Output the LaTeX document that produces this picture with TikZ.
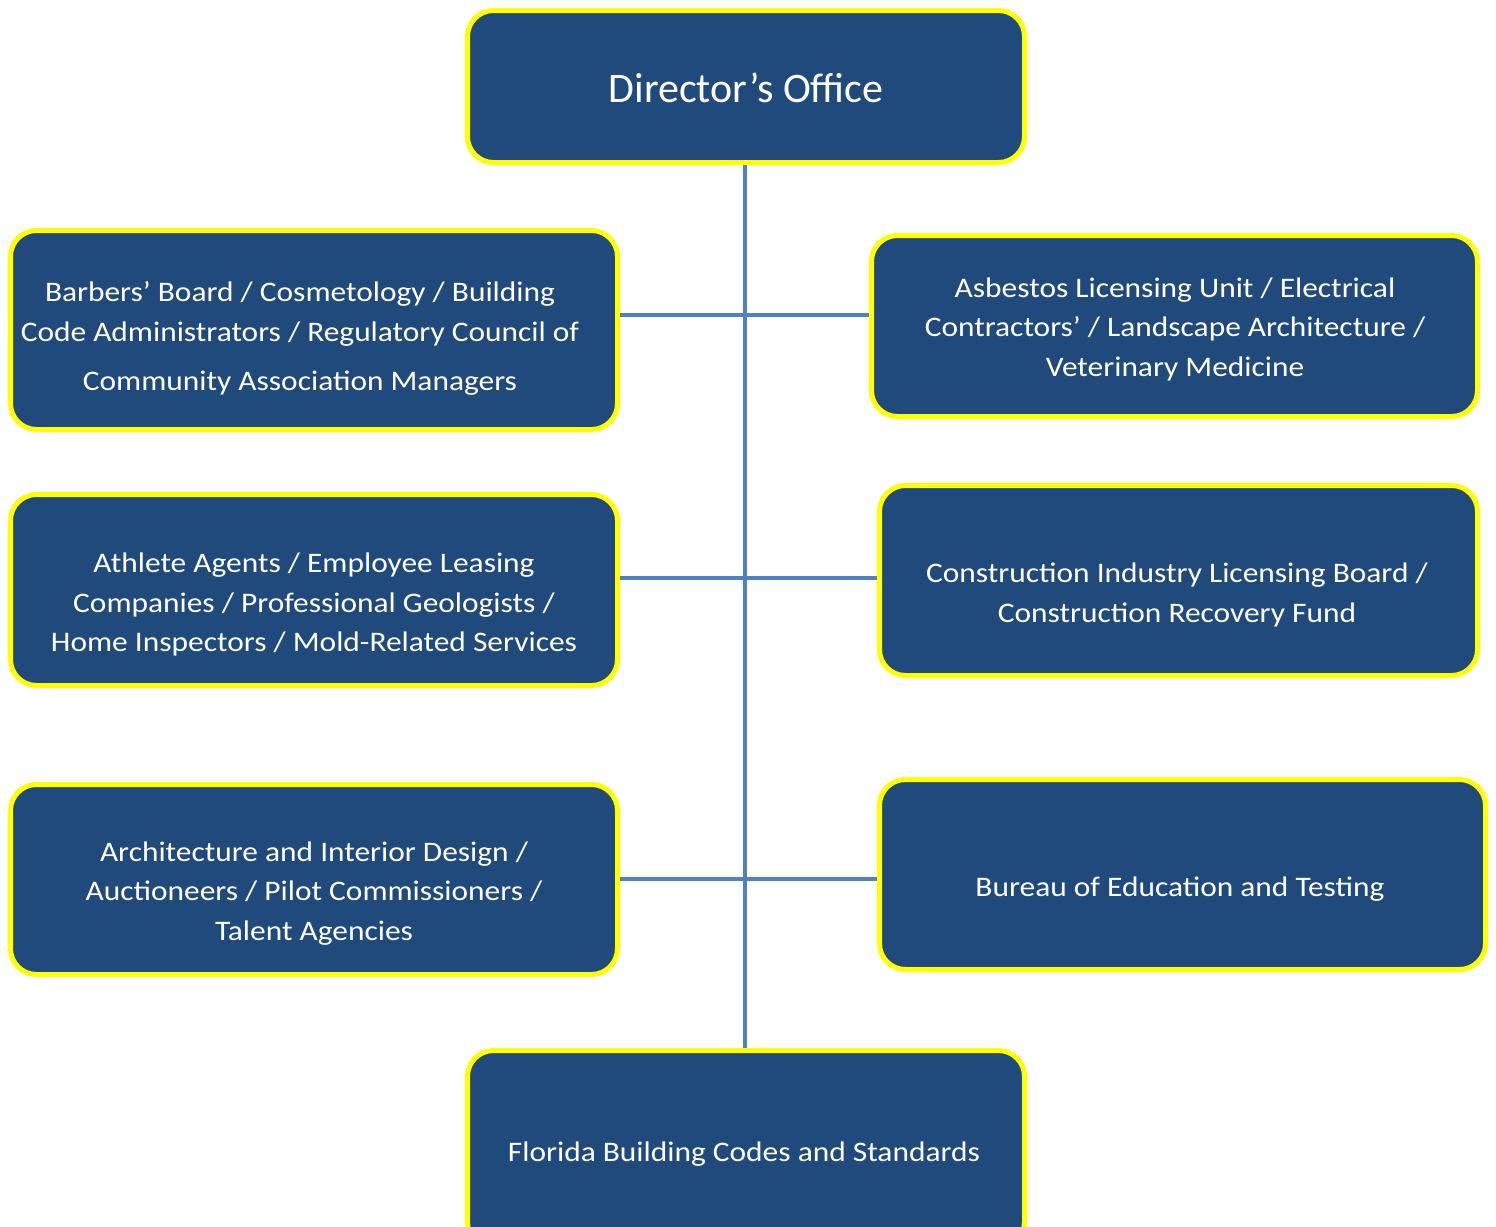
\documentclass[tikz,border=0pt]{standalone}
\usepackage{fontspec}
\setmainfont{Carlito}
\newfontfamily\widefont{Carlito}[FakeStretch=1.11]
\definecolor{boxblue}{HTML}{214A7C}
\definecolor{lineblue}{HTML}{4F81BD}
\definecolor{boxyellow}{HTML}{FFFF00}
\begin{document}
\begin{tikzpicture}[x=1pt,y=-1pt,
  orgbox/.style={draw=boxyellow, line width=5pt, fill=boxblue, rounded corners=26pt, inner sep=0pt},
  orgtext/.style={text=white, align=center, inner sep=0pt, font=\widefont\fontsize{28.3}{39.5}\selectfont},
  conn/.style={draw=lineblue, line width=4pt}]
\useasboundingbox (0,0) rectangle (1496,1226);
\node[orgbox, minimum width=557pt, minimum height=152pt] (dir) at (746,86.5) {};
\node[orgbox, minimum width=557pt, minimum height=197pt] (bot) at (746,1149) {};
\node[orgbox, minimum width=607pt, minimum height=199pt] (L1) at (314,330) {};
\node[orgbox, minimum width=606pt, minimum height=181pt] (R1) at (1174.5,326) {};
\node[orgbox, minimum width=607pt, minimum height=191pt] (L2) at (314,590) {};
\node[orgbox, minimum width=598pt, minimum height=190pt] (R2) at (1178.5,580.5) {};
\node[orgbox, minimum width=607pt, minimum height=190pt] (L3) at (314,879.5) {};
\node[orgbox, minimum width=606pt, minimum height=190pt] (R3) at (1182.5,874.5) {};

\coordinate (h1) at (745,315);
\coordinate (h2) at (745,578);
\coordinate (h3) at (745,879);
\draw[conn] (dir.south -| h1) -- (bot.north -| h1);
\draw[conn] (L1.east |- h1) -- (R1.west |- h1);
\draw[conn] (L2.east |- h2) -- (R2.west |- h2);
\draw[conn] (L3.east |- h3) -- (R3.west |- h3);

\node[orgtext, font=\fontsize{42}{50}\selectfont] (dirT) at (746,88) {Director’s Office};
\node[orgtext] (L1T) at (300,338.5) {Barbers’ Board / Cosmetology / Building\\Code Administrators / Regulatory Council of\\[10pt]Community Association Managers};
\node[orgtext] (R1T) at (1175,329) {Asbestos Licensing Unit / Electrical\\Contractors’ / Landscape Architecture /\\Veterinary Medicine};
\node[orgtext] (L2T) at (314,604.5) {Athlete Agents / Employee Leasing\\Companies / Professional Geologists /\\Home Inspectors / Mold-Related Services};
\node[orgtext] (R2T) at (1177,595) {Construction Industry Licensing Board /\\Construction Recovery Fund};
\node[orgtext] (L3T) at (314,893.5) {Architecture and Interior Design /\\Auctioneers / Pilot Commissioners /\\Talent Agencies};
\node[orgtext] (R3T) at (1180,889) {Bureau of Education and Testing};
\node[orgtext] (botT) at (744,1154) {Florida Building Codes and Standards};
\end{tikzpicture}
\end{document}
